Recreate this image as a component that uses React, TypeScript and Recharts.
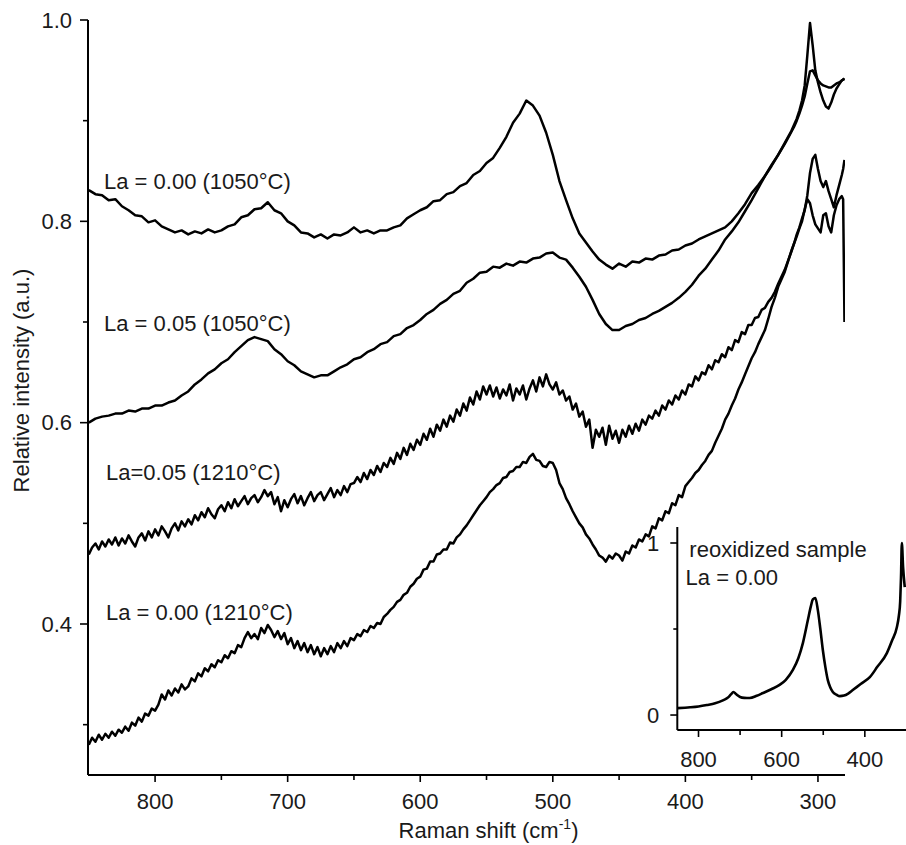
import React from 'react';
import { LineChart, Line, XAxis, YAxis, ReferenceDot, Label } from 'recharts';

// ---------- DATA ----------
// coarse grid for the two smoother 1050°C spectra
const ramanShift = [
  850, 845, 840, 835, 830, 825, 820, 815, 810, 805,
  800, 795, 790, 785, 780, 775, 770, 765, 760, 755,
  750, 745, 740, 735, 730, 725, 720, 715, 710, 705,
  700, 695, 690, 685, 680, 675, 670, 665, 660, 655,
  650, 645, 640, 635, 630, 625, 620, 615, 610, 605,
  600, 595, 590, 585, 580, 575, 570, 565, 560, 555,
  550, 545, 540, 535, 530, 525, 520, 515, 510, 505,
  500, 495, 490, 485, 480, 475, 470, 465, 460, 455,
  450, 445, 440, 435, 430, 425, 420, 415, 410, 405,
  400, 395, 390, 385, 380, 375, 370, 365, 360, 355,
  350, 345, 340, 335, 330, 325, 320,
  318, 316, 314, 312, 310, 308, 306, 304, 302, 300,
  298, 296, 294, 292, 290, 288, 286, 284, 282, 281, 280,
];

const la000_1050 = [
  0.831, 0.827, 0.826, 0.821, 0.822, 0.815, 0.811, 0.806, 0.805, 0.799,
  0.801, 0.795, 0.792, 0.789, 0.791, 0.787, 0.790, 0.788, 0.792, 0.789,
  0.791, 0.795, 0.797, 0.804, 0.806, 0.812, 0.813, 0.819, 0.811, 0.808,
  0.800, 0.796, 0.789, 0.788, 0.784, 0.787, 0.783, 0.787, 0.786, 0.789,
  0.794, 0.789, 0.791, 0.788, 0.791, 0.791, 0.794, 0.796, 0.803, 0.807,
  0.811, 0.814, 0.820, 0.821, 0.827, 0.829, 0.835, 0.838, 0.846, 0.850,
  0.858, 0.863, 0.873, 0.884, 0.898, 0.907, 0.920, 0.915, 0.905, 0.888,
  0.866, 0.840, 0.821, 0.803, 0.788, 0.779, 0.770, 0.762, 0.757, 0.753,
  0.758, 0.755, 0.760, 0.759, 0.763, 0.762, 0.766, 0.767, 0.771, 0.772,
  0.776, 0.778, 0.782, 0.785, 0.788, 0.791, 0.794, 0.800, 0.808, 0.817,
  0.828, 0.836, 0.845, 0.856, 0.866, 0.878, 0.890,
  0.896, 0.902, 0.910, 0.920, 0.935, 0.965, 0.997, 0.975, 0.950, 0.938,
  0.928, 0.920, 0.914, 0.912, 0.918, 0.926, 0.932, 0.936, 0.940, 0.941, 0.942,
];

const la005_1050 = [
  0.600, 0.604, 0.606, 0.607, 0.609, 0.609, 0.612, 0.611, 0.614, 0.614,
  0.617, 0.617, 0.620, 0.622, 0.627, 0.631, 0.638, 0.643, 0.649, 0.653,
  0.659, 0.663, 0.670, 0.676, 0.682, 0.685, 0.683, 0.681, 0.673, 0.668,
  0.661, 0.657, 0.651, 0.648, 0.645, 0.647, 0.647, 0.651, 0.655, 0.658,
  0.663, 0.665, 0.670, 0.673, 0.678, 0.680, 0.686, 0.688, 0.694, 0.697,
  0.702, 0.708, 0.712, 0.718, 0.722, 0.728, 0.731, 0.739, 0.743, 0.749,
  0.750, 0.755, 0.754, 0.758, 0.756, 0.760, 0.759, 0.763, 0.764, 0.768,
  0.769, 0.764, 0.762, 0.754, 0.745, 0.735, 0.722, 0.708, 0.698, 0.692,
  0.692, 0.696, 0.698, 0.702, 0.704, 0.708, 0.711, 0.715, 0.719, 0.724,
  0.730, 0.737, 0.746, 0.753, 0.762, 0.771, 0.782, 0.790, 0.799, 0.810,
  0.821, 0.833, 0.845, 0.855, 0.866, 0.877, 0.889,
  0.894, 0.900, 0.907, 0.915, 0.924, 0.937, 0.949, 0.950, 0.945, 0.940,
  0.937, 0.935, 0.934, 0.933, 0.933, 0.935, 0.937, 0.938, 0.940, 0.941, 0.941,
];

// finer grid for the two noisy 1210°C spectra
const ramanShiftFine = [
  850, 847.5, 845, 842.5, 840, 837.5, 835, 832.5, 830, 827.5,
  825, 822.5, 820, 817.5, 815, 812.5, 810, 807.5, 805, 802.5,
  800, 797.5, 795, 792.5, 790, 787.5, 785, 782.5, 780, 777.5,
  775, 772.5, 770, 767.5, 765, 762.5, 760, 757.5, 755, 752.5,
  750, 747.5, 745, 742.5, 740, 737.5, 735, 732.5, 730, 727.5,
  725, 722.5, 720, 717.5, 715, 712.5, 710, 707.5, 705, 702.5,
  700, 697.5, 695, 692.5, 690, 687.5, 685, 682.5, 680, 677.5,
  675, 672.5, 670, 667.5, 665, 662.5, 660, 657.5, 655, 652.5,
  650, 647.5, 645, 642.5, 640, 637.5, 635, 632.5, 630, 627.5,
  625, 622.5, 620, 617.5, 615, 612.5, 610, 607.5, 605, 602.5,
  600, 597.5, 595, 592.5, 590, 587.5, 585, 582.5, 580, 577.5,
  575, 572.5, 570, 567.5, 565, 562.5, 560, 557.5, 555, 552.5,
  550, 547.5, 545, 542.5, 540, 537.5, 535, 532.5, 530, 527.5,
  525, 522.5, 520, 517.5, 515, 512.5, 510, 507.5, 505, 502.5,
  500, 497.5, 495, 492.5, 490, 487.5, 485, 482.5, 480, 477.5,
  475, 472.5, 470, 467.5, 465, 462.5, 460, 457.5, 455, 452.5,
  450, 447.5, 445, 442.5, 440, 437.5, 435, 432.5, 430, 427.5,
  425, 422.5, 420, 417.5, 415, 412.5, 410, 407.5, 405, 402.5,
  400, 397.5, 395, 392.5, 390, 387.5, 385, 382.5, 380, 377.5,
  375, 372.5, 370, 367.5, 365, 362.5, 360, 357.5, 355, 352.5,
  350, 347.5, 345, 342.5, 340, 337.5, 335, 332.5, 330,
  325, 320, 318, 316, 314, 312, 310, 308, 306, 304, 302, 300,
  298, 296, 294, 292, 290, 288, 286, 284, 282, 281, 280,
];

const la005_1210 = [
  0.469, 0.476, 0.480, 0.474, 0.482, 0.477, 0.484, 0.479, 0.486, 0.478,
  0.485, 0.480, 0.488, 0.482, 0.477, 0.486, 0.490, 0.483, 0.492, 0.486,
  0.494, 0.488, 0.497, 0.492, 0.486, 0.495, 0.500, 0.493, 0.502, 0.497,
  0.504, 0.499, 0.508, 0.503, 0.511, 0.506, 0.515, 0.509, 0.505, 0.514,
  0.518, 0.512, 0.521, 0.515, 0.524, 0.517, 0.522, 0.527, 0.519, 0.525,
  0.528, 0.521, 0.526, 0.533, 0.527, 0.531, 0.519, 0.526, 0.512, 0.523,
  0.516, 0.524, 0.529, 0.520, 0.527, 0.518, 0.525, 0.531, 0.522, 0.528,
  0.531, 0.523, 0.529, 0.535, 0.526, 0.533, 0.528, 0.537, 0.531, 0.539,
  0.540, 0.546, 0.541, 0.550, 0.544, 0.553, 0.548, 0.557, 0.551, 0.560,
  0.556, 0.565, 0.559, 0.570, 0.564, 0.575, 0.568, 0.579, 0.573, 0.583,
  0.578, 0.589, 0.583, 0.594, 0.586, 0.598, 0.592, 0.603, 0.596, 0.607,
  0.601, 0.613, 0.607, 0.619, 0.612, 0.625, 0.618, 0.631, 0.623, 0.636,
  0.628, 0.637, 0.626, 0.635, 0.624, 0.633, 0.627, 0.638, 0.622, 0.634,
  0.628, 0.637, 0.623, 0.634, 0.642, 0.631, 0.645, 0.636, 0.648, 0.638,
  0.633, 0.640, 0.628, 0.632, 0.622, 0.626, 0.613, 0.619, 0.606, 0.611,
  0.596, 0.603, 0.575, 0.593, 0.586, 0.595, 0.578, 0.597, 0.584, 0.592,
  0.580, 0.593, 0.586, 0.597, 0.589, 0.599, 0.592, 0.603, 0.598, 0.607,
  0.604, 0.612, 0.607, 0.617, 0.613, 0.622, 0.618, 0.627, 0.623, 0.632,
  0.628, 0.638, 0.636, 0.646, 0.642, 0.650, 0.648, 0.657, 0.653, 0.662,
  0.660, 0.668, 0.665, 0.675, 0.672, 0.682, 0.680, 0.690, 0.688, 0.697,
  0.697, 0.704, 0.705, 0.712, 0.714, 0.720, 0.724, 0.730, 0.738,
  0.752, 0.770, 0.778, 0.785, 0.793, 0.800, 0.812, 0.822, 0.818, 0.806, 0.797, 0.793,
  0.789, 0.806, 0.808, 0.795, 0.789, 0.806, 0.816, 0.822, 0.825, 0.822, 0.700,
];

const la000_1210 = [
  0.280, 0.287, 0.283, 0.290, 0.285, 0.291, 0.287, 0.293, 0.289, 0.295,
  0.292, 0.298, 0.294, 0.302, 0.299, 0.307, 0.303, 0.311, 0.309, 0.316,
  0.314, 0.320, 0.330, 0.325, 0.334, 0.329, 0.336, 0.332, 0.340, 0.335,
  0.338, 0.346, 0.343, 0.351, 0.348, 0.356, 0.353, 0.360, 0.357, 0.364,
  0.362, 0.369, 0.366, 0.373, 0.371, 0.379, 0.377, 0.386, 0.392, 0.386,
  0.390, 0.385, 0.396, 0.391, 0.399, 0.394, 0.387, 0.393, 0.385, 0.391,
  0.380, 0.386, 0.376, 0.383, 0.374, 0.381, 0.372, 0.379, 0.370, 0.377,
  0.368, 0.376, 0.370, 0.378, 0.372, 0.381, 0.376, 0.383, 0.378, 0.386,
  0.384, 0.390, 0.388, 0.394, 0.392, 0.398, 0.396, 0.401, 0.400, 0.407,
  0.410, 0.414, 0.417, 0.422, 0.424, 0.429, 0.431, 0.437, 0.440, 0.445,
  0.447, 0.454, 0.455, 0.462, 0.462, 0.469, 0.470, 0.474, 0.474, 0.481,
  0.480, 0.486, 0.489, 0.494, 0.498, 0.503, 0.508, 0.513, 0.518, 0.522,
  0.526, 0.531, 0.534, 0.538, 0.540, 0.545, 0.546, 0.551, 0.552, 0.556,
  0.556, 0.561, 0.560, 0.566, 0.569, 0.563, 0.562, 0.557, 0.556, 0.561,
  0.560, 0.553, 0.540, 0.534, 0.525, 0.519, 0.512, 0.506, 0.500, 0.496,
  0.489, 0.485, 0.479, 0.474, 0.468, 0.466, 0.462, 0.468, 0.465, 0.470,
  0.468, 0.463, 0.472, 0.470, 0.478, 0.476, 0.484, 0.482, 0.489, 0.487,
  0.497, 0.495, 0.505, 0.503, 0.512, 0.510, 0.520, 0.518, 0.528, 0.526,
  0.537, 0.541, 0.545, 0.550, 0.553, 0.558, 0.562, 0.568, 0.572, 0.580,
  0.587, 0.594, 0.603, 0.609, 0.617, 0.624, 0.633, 0.640, 0.648, 0.656,
  0.664, 0.670, 0.678, 0.685, 0.692, 0.703, 0.715, 0.724, 0.735,
  0.750, 0.771, 0.778, 0.787, 0.794, 0.803, 0.811, 0.826, 0.848, 0.862, 0.866, 0.852,
  0.840, 0.834, 0.840, 0.830, 0.822, 0.814, 0.826, 0.836, 0.846, 0.852, 0.861,
];

// inset: reoxidized sample, La = 0.00
const insetShift = [
  850, 820, 800, 780, 760, 740, 730, 722, 716, 710,
  700, 690, 677, 660, 645, 625, 605, 590, 573, 560,
  549, 537, 530, 525, 519, 513, 507, 501, 495, 489,
  483, 477, 468, 460, 450, 440, 429, 410, 388, 370,
  347, 335, 323, 318, 315, 313, 311, 308, 304,
];
const insetIntensity = [
  0.040, 0.045, 0.050, 0.058, 0.068, 0.087, 0.100, 0.120, 0.134, 0.122,
  0.105, 0.100, 0.099, 0.112, 0.128, 0.150, 0.175, 0.205, 0.262, 0.330,
  0.418, 0.552, 0.630, 0.672, 0.680, 0.610, 0.500, 0.378, 0.280, 0.203,
  0.160, 0.134, 0.118, 0.110, 0.113, 0.125, 0.145, 0.180, 0.220, 0.280,
  0.360, 0.430, 0.510, 0.580, 0.660, 0.800, 1.000, 0.860, 0.744,
];

// tick values
const mainXTicks = [800, 750, 700, 650, 600, 550, 500, 450, 400, 350, 300];
const mainXLabeled = [800, 700, 600, 500, 400, 300];
const mainYTicks = [0.3, 0.4, 0.5, 0.6, 0.7, 0.8, 0.9, 1.0];
const mainYLabeled = [0.4, 0.6, 0.8, 1.0];
const insetXTicks = [800, 700, 600, 500, 400];
const insetXLabeled = [800, 600, 400];
const insetYTicks = [0, 0.5, 1];
const insetYLabeled = [0, 1];

// curve annotations (data coordinates of the text anchor)
const curveLabels = ['La = 0.00 (1050°C)', 'La = 0.05 (1050°C)', 'La=0.05 (1210°C)', 'La = 0.00 (1210°C)'];
const curveLabelShift = [838.5, 838.5, 837, 837];
const curveLabelIntensity = [0.832, 0.691, 0.543, 0.404];

const insetLabels = ['reoxidized sample', 'La = 0.00'];
const insetLabelShift = [822, 831];
const insetLabelIntensity = [0.919, 0.756];

// ---------- build tables ----------
const toRows = (xs: number[], ys: number[]) => xs.map((s, i) => ({ shift: s, v: ys[i] }));
const seriesList = [
  { key: 'a', rows: toRows(ramanShift, la000_1050) },
  { key: 'b', rows: toRows(ramanShift, la005_1050) },
  { key: 'c', rows: toRows(ramanShiftFine, la005_1210) },
  { key: 'd', rows: toRows(ramanShiftFine, la000_1210) },
];
const insetRows = toRows(insetShift, insetIntensity);

// ---------- styles ----------
const FONT = '"Liberation Sans", Arial, Helvetica, sans-serif';
const TEXT = '#1a1a1a';
const FS = 22;

function makeXTick(tickSize: number, tickMargin: number, labeled: number[], majorLen: number, minorLen: number) {
  return (props: any) => {
    const { x, y, payload } = props;
    const axisY = y - tickSize - tickMargin;
    const major = labeled.includes(payload.value);
    const len = major ? majorLen : minorLen;
    return (
      <g>
        <line x1={x} x2={x} y1={axisY} y2={axisY + len} stroke="#000" strokeWidth={1.6} />
        {major && (
          <text x={x} y={y} dy="0.71em" textAnchor="middle" fontFamily={FONT} fontSize={FS} fill={TEXT}>
            {String(payload.value)}
          </text>
        )}
      </g>
    );
  };
}

function makeYTick(tickSize: number, tickMargin: number, labeled: number[], majorLen: number, minorLen: number, fmt: (v: number) => string) {
  return (props: any) => {
    const { x, y, payload } = props;
    const axisX = x + tickSize + tickMargin;
    const major = labeled.includes(payload.value);
    const len = major ? majorLen : minorLen;
    return (
      <g>
        <line x1={axisX - len} x2={axisX} y1={y} y2={y} stroke="#000" strokeWidth={1.6} />
        {major && (
          <text x={x} y={y} dy="0.355em" textAnchor="end" fontFamily={FONT} fontSize={FS} fill={TEXT}>
            {fmt(payload.value)}
          </text>
        )}
      </g>
    );
  };
}

const mainXTick = makeXTick(7, 11, mainXLabeled, 7, 5);
const mainYTick = makeYTick(8, 8, mainYLabeled, 8, 5, (v) => v.toFixed(1));
const insetXTick = makeXTick(7, 14, insetXLabeled, 7, 5);
const insetYTick = makeYTick(7, 11, insetYLabeled, 7, 4, (v) => String(v));

const textShape = (label: string) => (p: any) => (
  <text x={p.cx} y={p.cy} textAnchor="start" fontFamily={FONT} fontSize={FS} fill={TEXT}>
    {label}
  </text>
);

export default function App() {
  return (
    <div style={{ position: 'absolute', left: 0, top: 0, width: 906, height: 845, background: '#fff' }}>
      <div style={{ position: 'absolute', left: 0, top: 0 }}>
        <LineChart width={906} height={845} margin={{ top: 20, right: 61, bottom: 20, left: 28 }}>
          <XAxis
            dataKey="shift"
            type="number"
            domain={[279.6, 850.6]}
            reversed
            allowDataOverflow
            ticks={mainXTicks}
            interval={0}
            tick={mainXTick}
            tickLine={false}
            tickSize={7}
            tickMargin={11}
            height={50}
            axisLine={{ stroke: '#000', strokeWidth: 2 }}
          >
            <Label
              content={(p: any) => {
                const vb = p.viewBox;
                const cx = vb.x + vb.width / 2 + 22;
                const cy = vb.y + 63;
                return (
                  <text x={cx} y={cy} textAnchor="middle" fontFamily={FONT} fontSize={FS} fill={TEXT}>
                    Raman shift (cm
                    <tspan fontSize={14} dy={-9}>-1</tspan>
                    <tspan dy={9}>)</tspan>
                  </text>
                );
              }}
            />
          </XAxis>
          <YAxis
            type="number"
            domain={[0.25, 1.0]}
            allowDataOverflow
            ticks={mainYTicks}
            interval={0}
            tick={mainYTick}
            tickLine={false}
            tickSize={8}
            tickMargin={8}
            width={60}
            axisLine={{ stroke: '#000', strokeWidth: 2 }}
          >
            <Label
              content={(p: any) => {
                const vb = p.viewBox;
                const cx = vb.x - 7;
                const cy = vb.y + vb.height / 2 - 17;
                return (
                  <text
                    x={cx}
                    y={cy}
                    transform={`rotate(-90 ${cx} ${cy})`}
                    textAnchor="middle"
                    dominantBaseline="central"
                    fontFamily={FONT}
                    fontSize={FS}
                    fill={TEXT}
                  >
                    Relative intensity (a.u.)
                  </text>
                );
              }}
            />
          </YAxis>
          {seriesList.map((s) => (
            <Line
              key={s.key}
              data={s.rows}
              dataKey="v"
              type="linear"
              stroke="#000"
              strokeWidth={2.5}
              strokeLinejoin="round"
              dot={false}
              activeDot={false}
              isAnimationActive={false}
            />
          ))}
          {curveLabels.map((t, i) => (
            <ReferenceDot
              key={t}
              x={curveLabelShift[i]}
              y={curveLabelIntensity[i]}
              r={0}
              ifOverflow="visible"
              shape={textShape(t)}
            />
          ))}
        </LineChart>
      </div>
      <div style={{ position: 'absolute', left: 600, top: 500 }}>
        <LineChart width={306} height={300} data={insetRows} margin={{ top: 27, right: 0, bottom: 30, left: 27.3 }}>
          <XAxis
            dataKey="shift"
            type="number"
            domain={[301, 851]}
            reversed
            allowDataOverflow
            ticks={insetXTicks}
            interval={0}
            tick={insetXTick}
            tickLine={false}
            tickSize={7}
            tickMargin={14}
            height={40}
            axisLine={{ stroke: '#000', strokeWidth: 2 }}
          />
          <YAxis
            type="number"
            domain={[-0.087, 1.093]}
            allowDataOverflow
            ticks={insetYTicks}
            interval={0}
            tick={insetYTick}
            tickLine={false}
            tickSize={7}
            tickMargin={11}
            width={50}
            axisLine={{ stroke: '#000', strokeWidth: 2 }}
          />
          <Line
            dataKey="v"
            type="monotone"
            stroke="#000"
            strokeWidth={2.6}
            strokeLinejoin="round"
            dot={false}
            activeDot={false}
            isAnimationActive={false}
          />
          {insetLabels.map((t, i) => (
            <ReferenceDot
              key={t}
              x={insetLabelShift[i]}
              y={insetLabelIntensity[i]}
              r={0}
              ifOverflow="visible"
              shape={textShape(t)}
            />
          ))}
        </LineChart>
      </div>
    </div>
  );
}
